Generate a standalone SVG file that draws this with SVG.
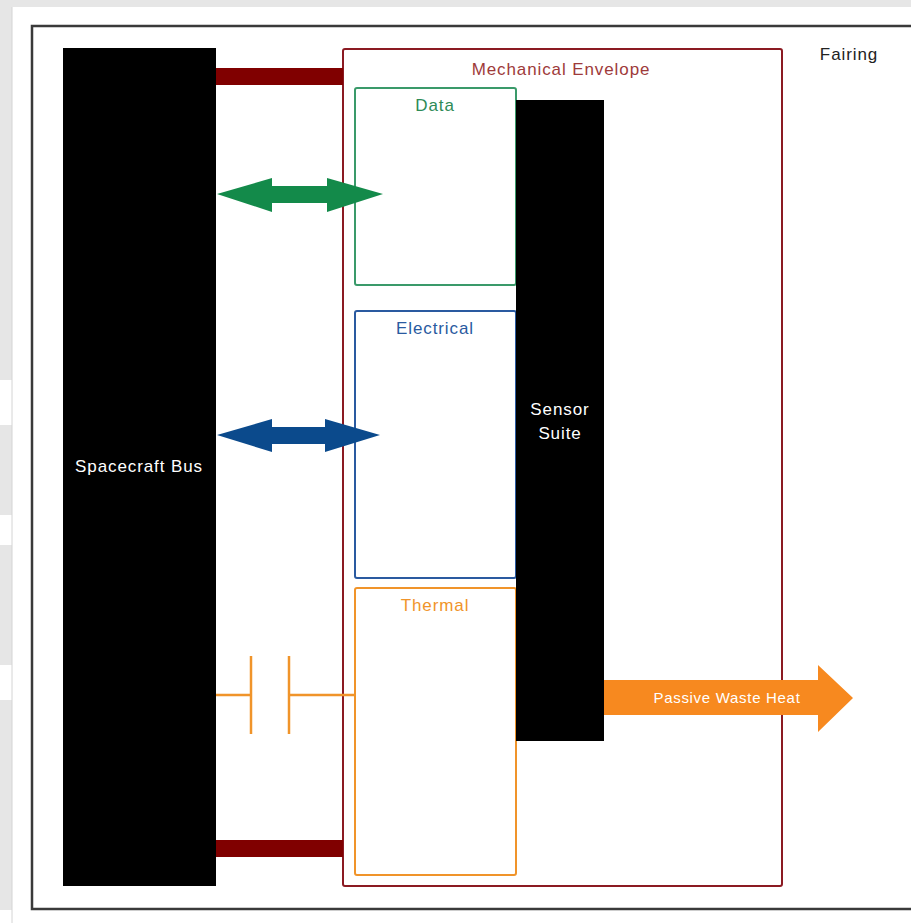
<svg xmlns="http://www.w3.org/2000/svg" width="911" height="923" viewBox="0 0 911 923">
<style>
.lbl{font-family:"Liberation Sans",Arial,sans-serif;font-size:17px;letter-spacing:0.9px;text-anchor:middle}
.box{fill:none;stroke-width:2}
</style>
<rect x="0" y="0" width="911" height="923" fill="#ffffff"/>
<rect x="0" y="0" width="911" height="7" fill="#e6e6e6"/>
<g id="bg-stripes" fill="#e6e6e6">
<rect x="0" y="0" width="12" height="380"/>
<rect x="0" y="425" width="12" height="90"/>
<rect x="0" y="545" width="12" height="120"/>
<rect x="0" y="700" width="12" height="210"/>
</g>
<line x1="12" y1="7" x2="12" y2="923" stroke="#d4d4d4" stroke-width="1"/>

<g id="fairing">
<rect x="32" y="26" width="900" height="883" fill="none" stroke="#3a3a3a" stroke-width="2.5"/>
<text class="lbl" x="849" y="60" fill="#222">Fairing</text>
</g>

<g id="mechanical-envelope">
<rect class="box" x="343" y="49" width="439" height="837" rx="2" stroke="#8b1a22"/>
<text class="lbl" x="561" y="75" fill="#9e3a3a">Mechanical Envelope</text>
</g>

<g id="data">
<rect class="box" x="355" y="88" width="161" height="197" rx="2" stroke="#3a9a6a"/>
<text class="lbl" x="435" y="111" fill="#2e8b57">Data</text>
</g>

<g id="electrical">
<rect class="box" x="355" y="311" width="161" height="267" rx="2" stroke="#2a5aa0"/>
<text class="lbl" x="435" y="334" fill="#2a5aa0">Electrical</text>
</g>

<g id="thermal">
<rect class="box" x="355" y="588" width="161" height="287" rx="2" stroke="#f0942a"/>
<text class="lbl" x="435" y="611" fill="#f0942a">Thermal</text>
</g>

<g id="spacecraft-bus">
<rect x="63" y="48" width="153" height="838" fill="#000"/>
<text class="lbl" x="139" y="472" fill="#fff">Spacecraft Bus</text>
</g>

<g id="sensor-suite">
<rect x="516" y="100" width="88" height="641" fill="#000"/>
<text class="lbl" x="560" y="415" fill="#fff">Sensor</text>
<text class="lbl" x="560" y="439" fill="#fff">Suite</text>
</g>

<g id="connectors">
<rect x="216" y="68" width="127" height="17" fill="#800000"/>
<rect x="216" y="840" width="127" height="17" fill="#800000"/>
<polygon points="217,194 272,178 272,186 327,186 327,178 383,194 327,212 327,203 272,203 272,212" fill="#138a4a"/>
<polygon points="217,435 272,419 272,427 325,427 325,419 380,435 325,452 325,444 272,444 272,452" fill="#0b4a8c"/>
<g stroke="#f0942a" stroke-width="2.5" fill="none">
<line x1="216" y1="695" x2="251" y2="695"/>
<line x1="251" y1="656" x2="251" y2="734"/>
<line x1="289" y1="656" x2="289" y2="734"/>
<line x1="289" y1="695" x2="355" y2="695"/>
</g>
<g id="passive-waste-heat">
<polygon points="604,680 818,680 818,665 853,698 818,732 818,715 604,715" fill="#f7891f"/>
<text class="lbl" x="727" y="703" fill="#fff" style="font-size:15px;letter-spacing:0.7px">Passive Waste Heat</text>
</g>
</g>
</svg>
